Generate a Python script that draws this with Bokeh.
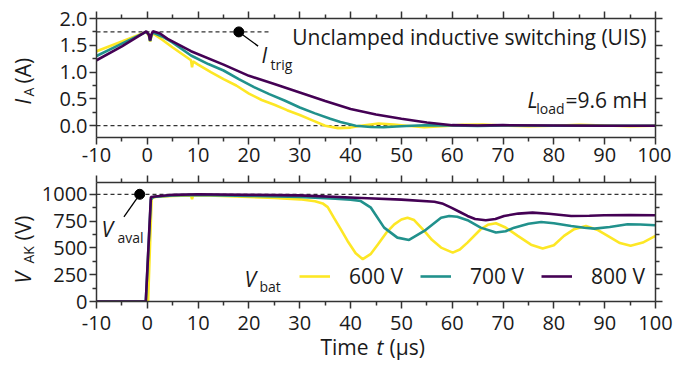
from bokeh.plotting import figure
from bokeh.layouts import column, row
from bokeh.models import Legend, LegendItem, FixedTicker, Range1d, LinearAxis
from bokeh.core.properties import value
from bokeh.embed import file_html
from bokeh.resources import INLINE

# ---------------- DATA ----------------
x_ticks = [-10, 0, 10, 20, 30, 40, 50, 60, 70, 80, 90, 100]
x_minor = [-5, 5, 15, 25, 35, 45, 55, 65, 75, 85, 95]
x_tick_labels = ["-10", "0", "10", "20", "30", "40", "50", "60", "70", "80", "90", "100"]

ia_ticks = [0.0, 0.5, 1.0, 1.5, 2.0]
ia_minor = [-0.25, 0.25, 0.75, 1.25, 1.75]
ia_tick_labels = ["0.0", "0.5", "1.0", "1.5", "2.0"]

vak_ticks = [0, 250, 500, 750, 1000]
vak_minor = [125, 375, 625, 875, 1125]
vak_tick_labels = ["0", "250", "500", "750", "1000"]

# anode current, 600 V
t_i600 = [-10, -5, -0.2, 0.3, 0.55, 0.8, 1.1, 3, 5, 8.6, 8.8, 9.0, 10, 12.5, 15, 17.5, 20,
          22.5, 25, 27.5, 30, 32.5, 35, 37.5, 40, 42, 45.5, 48.5, 51, 54.5, 58, 62, 66, 70,
          75, 80, 85, 90, 95, 100]
i_600 = [1.39, 1.57, 1.75, 1.68, 1.57, 1.66, 1.72, 1.60, 1.46, 1.22, 1.09, 1.20, 1.14, 1.00,
         0.87, 0.75, 0.60, 0.48, 0.39, 0.29, 0.20, 0.10, 0.0, -0.045, -0.035, 0.0, 0.04, 0.02,
         0.0, -0.03, -0.01, 0.015, 0.02, 0.005, -0.01, 0.0, 0.015, 0.005, -0.01, 0.0]
# anode current, 700 V
t_i700 = [-10, -5, -0.2, 0.3, 0.55, 0.8, 1.1, 3, 5, 8.6, 12, 15, 18, 21, 24, 27, 30, 33, 36,
          38, 41, 44, 46.5, 49, 52, 56, 60, 65, 70, 80, 90, 100]
i_700 = [1.30, 1.53, 1.75, 1.70, 1.58, 1.68, 1.74, 1.66, 1.55, 1.31, 1.15, 1.03, 0.87, 0.72,
         0.59, 0.47, 0.34, 0.23, 0.13, 0.07, 0.0, -0.025, -0.03, -0.015, 0.0, 0.01, 0.005,
         -0.005, 0.005, 0.0, 0.0, 0.0]
# anode current, 800 V
t_i800 = [-10, -5, -0.2, 0.3, 0.55, 0.8, 1.1, 2.5, 4, 8.6, 15, 20, 25, 30, 35, 40, 45, 50,
          55, 60, 65, 70, 80, 90, 100]
i_800 = [1.22, 1.48, 1.76, 1.70, 1.59, 1.70, 1.76, 1.72, 1.62, 1.39, 1.14, 0.93, 0.78, 0.62,
         0.46, 0.31, 0.21, 0.13, 0.06, 0.01, 0.005, 0.01, 0.005, 0.0, 0.0]

# anode-cathode voltage, 600 V
t_v600 = [-10, 0.15, 0.85, 1.5, 5, 8.6, 8.8, 9.0, 12, 20, 25, 30, 33, 34.5, 35.5, 36.7, 38,
          39.4, 41, 42.4, 44, 45.4, 47, 48.6, 50, 51.2, 52.5, 54.5, 56, 57.8, 60.1, 61.5, 63,
          65.6, 67, 68.6, 70.5, 72.9, 75.5, 77.8, 80, 82, 84, 86.3, 88.5, 90.6, 93, 95.1,
          97.5, 100]
v_600 = [0, 0, 960, 975, 985, 990, 955, 990, 990, 975, 965, 953, 935, 915, 880, 782, 680,
         565, 450, 395, 445, 534, 640, 720, 765, 782, 760, 658, 575, 503, 456, 485, 549,
         674, 715, 730, 690, 612, 530, 494, 525, 612, 675, 705, 670, 612, 545, 519,
         550, 612]
# anode-cathode voltage, 700 V
t_v700 = [-10, -0.3, 0.7, 1.2, 5, 10, 20, 30, 37, 40, 42, 44, 46.6, 49.2, 51.5, 54.5, 57.8,
          59.4, 61, 63, 65.6, 68.6, 70.5, 72.2, 75, 77.5, 80, 83.4, 86, 88, 91, 94.5, 97, 100]
v_700 = [0, 0, 950, 975, 990, 995, 985, 975, 960, 950, 937, 875, 689, 596, 574, 658, 782,
         798, 790, 758, 689, 643, 655, 689, 725, 742, 730, 705, 688, 680, 695, 720, 718, 711]
# anode-cathode voltage, 800 V
t_v800 = [-10, -0.3, 0.7, 1.5, 5, 10, 20, 30, 43.3, 50, 56.5, 58, 59.8, 61.5, 63, 64.5,
          66.6, 68.5, 70.2, 73, 75.8, 79, 83.4, 87, 89.9, 95, 100]
v_800 = [0, 0, 975, 980, 995, 1000, 995, 990, 963, 950, 931, 915, 875, 835, 798, 770,
         758, 770, 798, 820, 829, 818, 798, 800, 804, 806, 804]

# reference levels and markers
i_trig = 1.75
i_trig_line_t = [-10, 24]
i_trig_marker_t = 18
i_trig_leader_t = [18, 21.8]
i_trig_leader_i = [1.75, 1.485]
v_aval = 1000
v_aval_marker_t = -1.5
v_aval_leader_t = [-1.5, -4.6]
v_aval_leader_v = [1000, 789]
zero_line_t = [-10, 100]
aval_line_t = [-10, 100]

vbat_labels = ["600 V", "700 V", "800 V"]
colors = ["#fde725", "#21918c", "#440154"]

# ---------------- LAYOUT / STYLE ----------------
FONT = "Open Sans"
AXC = "#333333"
TXT = "#1a1a1a"
MID = 0.388                 # baseline lies this many em below the text middle
TF_W, TOTAL_H = 685, 364
FL, FW, RIGHT = 96, 559, 16  # frame left (page px), frame width, right border
LABW = 38                   # strip holding the top y title
P1_TOP, P1_FH, P1_BOT = 18, 119, 36
P1_H = P1_TOP + P1_FH + P1_BOT          # 173
STRIP2_W = 88                # strip holding bottom y title and y tick labels
P2_TOP, P2_FH, P2_BOT = 9, 119, 15
P2_H = P2_TOP + P2_FH + P2_BOT          # 143
OVERLAP = 8                  # transparent bottom strip slides up over the panel border
TF_H = TOTAL_H - P1_H - P2_H + OVERLAP  # 56
X0, X1 = -10, 100
IA0, IA1 = -0.22, 2.0
V0, V1 = 0, 1110
F2_TOP_PAGE = P1_H + P2_TOP             # 182


def xp(px):  # page x -> time
    return X0 + (px - FL) * (X1 - X0) / FW


def yi(py):  # page y -> current (top panel)
    return IA1 - (py - P1_TOP) * (IA1 - IA0) / P1_FH


def yv(py):  # page y -> voltage (bottom panel)
    return V1 - (py - F2_TOP_PAGE) * (V1 - V0) / P2_FH


def style_axes(p, yt, ym, ylab, hide=()):
    p.xgrid.visible = False
    p.ygrid.visible = False
    p.outline_line_color = None
    p.background_fill_color = "white"
    p.border_fill_color = "white"
    for ax in p.axis:
        ax.axis_line_color = AXC
        ax.axis_line_width = 1.5
        ax.major_tick_line_color = AXC
        ax.minor_tick_line_color = AXC
        ax.major_tick_line_width = 1.5
        ax.minor_tick_line_width = 1.5
        ax.major_tick_in = 0
        ax.major_tick_out = 7
        ax.minor_tick_in = 0
        ax.minor_tick_out = 4
        ax.major_label_text_font = FONT
        ax.major_label_text_font_size = "20px"
        ax.major_label_text_color = TXT
    for ax in (p.below[0], p.above[0]):
        ax.ticker = FixedTicker(ticks=x_ticks, minor_ticks=x_minor)
        ax.major_label_overrides = {float(v): s for v, s in zip(x_ticks, x_tick_labels)}
    for ax in (p.left[0], p.right[0]):
        ax.ticker = FixedTicker(ticks=yt, minor_ticks=ym)
        ax.major_label_overrides = {float(v): s for v, s in zip(yt, ylab)}
    p.left[0].major_label_standoff = 2
    p.below[0].major_label_standoff = 3
    for ax in [p.above[0], p.right[0]] + [getattr(p, side)[0] for side in hide]:
        ax.major_label_text_font_size = "0px"
        ax.major_label_text_color = None
        ax.major_label_standoff = 0


def make_panel(h, left, top, bot, yr):
    p = figure(width=left + FW + RIGHT, height=h, output_backend="svg",
               toolbar_location=None, x_range=Range1d(X0, X1), y_range=Range1d(*yr),
               min_border_left=left, min_border_right=RIGHT, min_border_top=top,
               min_border_bottom=bot, frame_align=False)
    p.add_layout(LinearAxis(), "above")
    p.add_layout(LinearAxis(), "right")
    return p


def bare(w, h, xr, yr):
    f = figure(width=w, height=h, output_backend="svg", toolbar_location=None,
               x_range=Range1d(*xr), y_range=Range1d(*yr),
               x_axis_type=None, y_axis_type=None, min_border=0,
               min_border_left=0, min_border_right=0, min_border_top=0,
               min_border_bottom=0, frame_align=False)
    f.grid.visible = False
    f.outline_line_color = None
    f.background_fill_color = "white"
    f.border_fill_color = "white"
    return f


def put(p, x, y, s, size, italic=False, align="left", angle=0):
    p.text(x=x, y=y, text=s, text_font=value(FONT), text_font_size="%dpx" % size,
           text_color=TXT, text_font_style="italic" if italic else "normal",
           text_align=align, text_baseline="middle", angle=angle, angle_units="deg")


def writer(fig, fx, fy):
    # place a text whose baseline starts at page pixel (px, py)
    def w(px, py, s, size=21, angle=0, **kw):
        if angle:
            px = px - MID * size
        else:
            py = py - MID * size
        put(fig, [fx(px)], [fy(py)], [s], size, angle=angle, **kw)
    return w


# ---------------- TOP PANEL ----------------
p1 = make_panel(P1_H, FL - LABW, P1_TOP, P1_BOT, (IA0, IA1))
style_axes(p1, ia_ticks, ia_minor, ia_tick_labels)

p1.line(i_trig_line_t, [i_trig, i_trig], line_color=AXC, line_width=1.3, line_dash="4 3")
p1.line(zero_line_t, [0, 0], line_color=AXC, line_width=1.3, line_dash="4 3")
for t, v, c in zip([t_i600, t_i700, t_i800], [i_600, i_700, i_800], colors):
    p1.line(t, v, line_color=c, line_width=2.6)
p1.line(i_trig_leader_t, i_trig_leader_i, line_color="black", line_width=1.3)
p1.scatter([i_trig_marker_t], [i_trig], size=10, color="black")

w1 = writer(p1, xp, yi)
w1(646, 45, "Unclamped inductive switching (UIS)", align="right")
w1(537, 108, "L", italic=True, align="right")
w1(564, 113, "load", size=14, align="right")
w1(647, 108, "=9.6 mH", align="right")
w1(261, 63, "I", italic=True)
w1(270, 69, "trig", size=14)

yl1 = bare(LABW, P1_H, (0, LABW), (0, P1_H))
a1 = writer(yl1, lambda px: px, lambda py: P1_H - py)
a1(30.5, 104, "I", italic=True, angle=90)
a1(33.5, 96, "A", size=14, angle=90)
a1(30.5, 83, "(A)", angle=90)

# ---------------- BOTTOM PANEL ----------------
p2 = make_panel(P2_H, FL - STRIP2_W, P2_TOP, P2_BOT, (V0, V1))
style_axes(p2, vak_ticks, vak_minor, vak_tick_labels, hide=("left", "below"))

p2.line(aval_line_t, [v_aval, v_aval], line_color=AXC, line_width=1.3, line_dash="4 3")
rs = []
for t, v, c in zip([t_v600, t_v700, t_v800], [v_600, v_700, v_800], colors):
    rs.append(p2.line(t, v, line_color=c, line_width=2.6))
p2.line(v_aval_leader_t, v_aval_leader_v, line_color="black", line_width=1.3)
p2.scatter([v_aval_marker_t], [v_aval], size=10, color="black")

legend = Legend(items=[LegendItem(label=l, renderers=[r]) for l, r in zip(vbat_labels, rs)],
                orientation="horizontal", location=(203, 11), glyph_width=31,
                glyph_height=24, label_height=24, label_standoff=19, spacing=17,
                padding=0, margin=0, border_line_color=None, background_fill_alpha=0,
                label_text_font=FONT, label_text_font_size="21px", label_text_color=TXT)
p2.add_layout(legend)

w2 = writer(p2, xp, yv)
w2(101, 237, "V", italic=True)
w2(117, 242, "aval", size=14)
w2(244, 287, "V", italic=True)
w2(259, 291, "bat", size=14)

# strip with the y tick labels and the y title of the bottom panel
s2 = bare(STRIP2_W, P2_H, (0, STRIP2_W), (yv(P1_H + P2_H), yv(P1_H)))
put(s2, [FL - 9] * len(vak_ticks), vak_ticks, vak_tick_labels, 20, align="right")
a2 = writer(s2, lambda px: px, yv)
a2(30.5, 283, "V", italic=True, angle=90)
a2(33.5, 263, "AK", size=14, angle=90)
a2(30.5, 240, "(V)", angle=90)

# transparent strip with the x tick labels and the x title of the bottom panel
tf = bare(TF_W, TF_H, (xp(0), xp(TF_W)), (0, TF_H))
tf.background_fill_alpha = 0
tf.border_fill_alpha = 0
tf.margin = (-OVERLAP, 0, 0, 0)
put(tf, x_ticks, [TOTAL_H - 322.5] * len(x_ticks), x_tick_labels, 20, align="center")
w3 = writer(tf, xp, lambda py: TOTAL_H - py)
w3(320, 355, "Time")
w3(376, 355, "t", italic=True)
w3(389, 355, "(μs)")

layout = column(row(yl1, p1, spacing=0), row(s2, p2, spacing=0), tf, spacing=0)
open("out.html", "w").write(file_html(layout, INLINE))
